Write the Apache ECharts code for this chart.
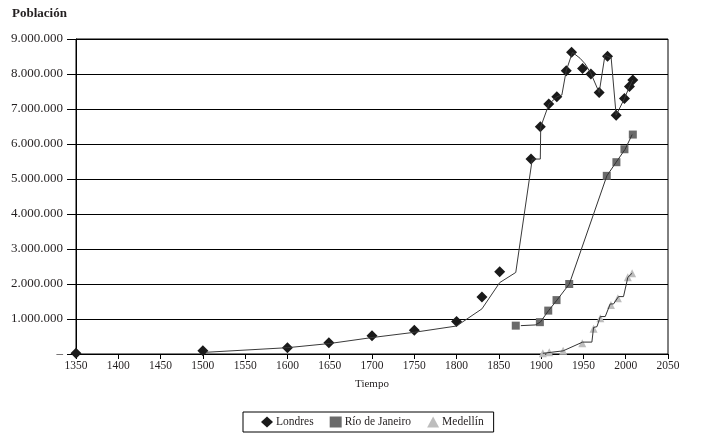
<!DOCTYPE html>
<html>
<head>
<meta charset="utf-8">
<script src="https://cdn.jsdelivr.net/npm/echarts@6/dist/echarts.min.js"></script>
<style>html,body{margin:0;padding:0;background:#fff}#c{width:711px;height:438px}</style>
</head>
<body>
<div id="c"></div>
<script>
// ---- Data ----
const xTicks = [1350,1400,1450,1500,1550,1600,1650,1700,1750,1800,1850,1900,1950,2000,2050];
const yTicks = [0,1000000,2000000,3000000,4000000,5000000,6000000,7000000,8000000,9000000];

// Londres markers
const londresYears  = [1350, 1500, 1600, 1649, 1700, 1750, 1800, 1830, 1851, 1888, 1899, 1909, 1918.5, 1929.7, 1936, 1949, 1958.8, 1968.6, 1978.5, 1988.7, 1998.5, 2004.4, 2008.4];
const londresValues = [20000, 90000, 180000, 320000, 520000, 680000, 930000, 1630000, 2350000, 5570000, 6490000, 7140000, 7350000, 8090000, 8620000, 8160000, 8000000, 7470000, 8510000, 6820000, 7300000, 7640000, 7830000];
// Londres line
const londresLineYears  = [1504, 1600, 1650, 1700, 1750, 1800, 1830, 1851, 1870, 1889.5, 1899, 1899.5, 1909.2, 1918.7, 1924.5, 1929.6, 1937, 1946, 1952, 1958.8, 1968.6, 1975.5, 1982.8, 1988.7, 1998.5, 2004.4, 2008.4];
const londresLineValues = [50000, 180000, 300000, 470000, 620000, 800000, 1290000, 2040000, 2330000, 5570000, 5570000, 6490000, 7140000, 7350000, 7400000, 8090000, 8620000, 8450000, 8290000, 8020000, 7470000, 8540000, 8460000, 6820000, 7300000, 7640000, 7830000];

// Río de Janeiro markers
const rioYears  = [1870, 1898.5, 1908.4, 1918.2, 1933.2, 1977.6, 1989, 1998.5, 2008.4];
const rioValues = [810000, 910000, 1240000, 1540000, 2000000, 5090000, 5480000, 5850000, 6270000];
// Río de Janeiro line
const rioLineYears  = [1876, 1893, 1899, 1908.8, 1918.7, 1933.3, 1977.7, 1988.7, 1999.3, 2007.6];
const rioLineValues = [810000, 830000, 910000, 1240000, 1540000, 2000000, 5090000, 5480000, 5850000, 6270000];

// Medellín markers
const medYears  = [1902, 1909.6, 1926, 1948.6, 1962, 1970, 1982.5, 1990.7, 2002.5, 2007.6];
const medValues = [20000, 50000, 90000, 310000, 720000, 1020000, 1400000, 1590000, 2190000, 2310000];
// Medellín line
const medLineYears  = [1902, 1926, 1949, 1960, 1962, 1966, 1970, 1975.8, 1981.7, 1985.6, 1991.5, 1997.4, 2002.5, 2007.6];
const medLineValues = [20000, 90000, 340000, 340000, 760000, 780000, 1070000, 1070000, 1430000, 1430000, 1640000, 1640000, 2190000, 2310000];

const names = ['Londres', 'Río de Janeiro', 'Medellín'];

// ---- Build ----
const zip = (xs, ys) => xs.map((x, i) => [x, ys[i]]);
const FONT = 'Liberation Serif';
const fmt = v => v === 0 ? '–' : String(v).replace(/\B(?=(\d{3})+(?!\d))/g, '.');

const chart = echarts.init(document.getElementById('c'), null, {renderer: 'canvas'});
chart.setOption({
  animation: false,
  backgroundColor: '#fff',
  textStyle: {fontFamily: FONT, color: '#231f20'},
  title: {
    text: 'Población', left: 7, top: 2,
    textStyle: {fontFamily: FONT, fontSize: 13, fontWeight: 'bold', color: '#231f20'}
  },
  grid: {left: 76, right: 43, top: 39, bottom: 84, show: true, borderColor: '#000', borderWidth: 1},
  xAxis: {
    type: 'value', min: xTicks[0], max: xTicks[xTicks.length - 1], interval: 50,
    name: 'Tiempo', nameLocation: 'middle', nameGap: 25,
    nameTextStyle: {fontFamily: FONT, fontSize: 11, color: '#231f20'},
    axisLine: {show: true, lineStyle: {color: '#000', width: 1}},
    axisTick: {show: true, length: 5, lineStyle: {color: '#000'}},
    axisLabel: {fontFamily: FONT, fontSize: 11.5, color: '#231f20', margin: 6, formatter: v => String(v)},
    splitLine: {show: false}
  },
  yAxis: {
    type: 'value', min: yTicks[0], max: yTicks[yTicks.length - 1], interval: 1000000,
    axisLine: {show: true, lineStyle: {color: '#000', width: 1}},
    axisTick: {show: true, length: 9, lineStyle: {color: '#000'}},
    axisLabel: {fontFamily: FONT, fontSize: 13, color: '#231f20', margin: 13, formatter: fmt},
    splitLine: {show: true, lineStyle: {color: '#000', width: 1}}
  },
  legend: {
    data: names, left: 243, top: 412, orient: 'horizontal',
    padding: [4, 10, 4, 18], itemGap: 16, itemWidth: 12, itemHeight: 11,
    borderColor: '#000', borderWidth: 1, borderRadius: 0,
    textStyle: {fontFamily: FONT, fontSize: 11.5, color: '#231f20', padding: [0, 0, 0, -2]}
  },
  series: [
    {name: 'Londres línea', type: 'line', data: zip(londresLineYears, londresLineValues), showSymbol: false, symbol: 'none',
     lineStyle: {color: '#3a3a3a', width: 1}, itemStyle: {color: '#3a3a3a'}, z: 3, silent: true},
    {name: 'Río línea', type: 'line', data: zip(rioLineYears, rioLineValues), showSymbol: false, symbol: 'none',
     lineStyle: {color: '#333', width: 1}, itemStyle: {color: '#333'}, z: 3, silent: true},
    {name: 'Medellín línea', type: 'line', data: zip(medLineYears, medLineValues), showSymbol: false, symbol: 'none',
     lineStyle: {color: '#333', width: 1}, itemStyle: {color: '#333'}, z: 3, silent: true},
    {name: names[0], type: 'scatter', symbol: 'diamond', symbolSize: 11, data: zip(londresYears, londresValues),
     itemStyle: {color: '#1a1a1a', opacity: 1}, z: 2},
    {name: names[1], type: 'scatter', symbol: 'rect', symbolSize: 8, data: zip(rioYears, rioValues),
     itemStyle: {color: '#6b6b6b', opacity: 1}, z: 2},
    {name: names[2], type: 'scatter', symbol: 'triangle', symbolSize: 8, data: zip(medYears, medValues),
     itemStyle: {color: '#bdbdbd', opacity: 1}, z: 2}
  ]
});
</script>
</body>
</html>
